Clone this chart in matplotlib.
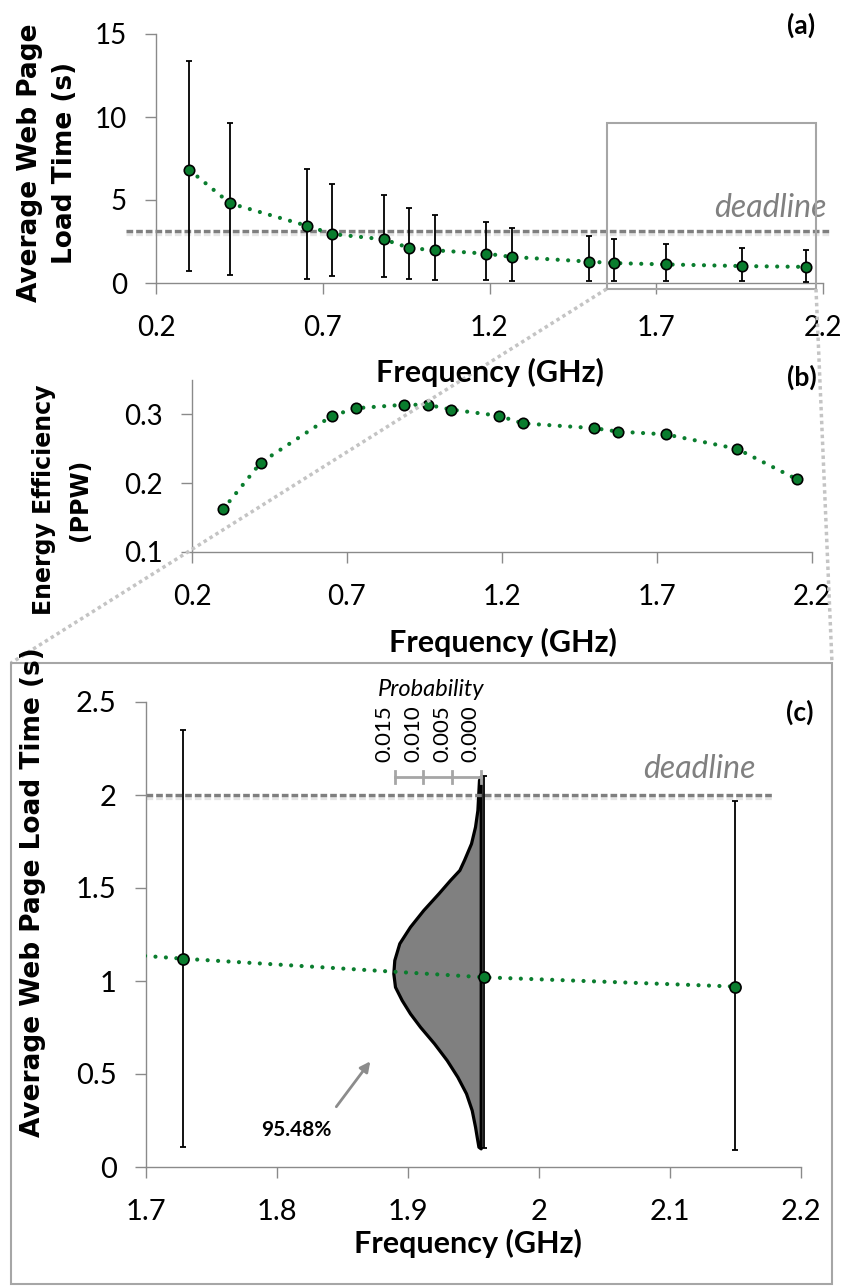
import numpy as np
import matplotlib
matplotlib.use("Agg")
import matplotlib.pyplot as plt
import matplotlib.patheffects as pe
from matplotlib.patches import Rectangle
from matplotlib.lines import Line2D

plt.rcParams['font.family'] = 'Lato'

# data
freq = np.array([0.300, 0.422, 0.652, 0.729, 0.883, 0.960, 1.036, 1.190, 1.267, 1.497, 1.574, 1.728, 1.958, 2.150])
load = np.array([6.81, 4.80, 3.45, 2.95, 2.63, 2.11, 1.97, 1.77, 1.57, 1.29, 1.20, 1.12, 1.02, 0.97])
load_hi = np.array([13.39, 9.64, 6.89, 5.96, 5.30, 4.50, 4.12, 3.67, 3.29, 2.81, 2.63, 2.35, 2.10, 1.97])
load_lo = np.array([0.70, 0.48, 0.24, 0.40, 0.34, 0.22, 0.20, 0.18, 0.14, 0.14, 0.12, 0.11, 0.10, 0.09])
ppw = np.array([0.162, 0.230, 0.298, 0.309, 0.314, 0.314, 0.307, 0.298, 0.287, 0.280, 0.275, 0.271, 0.250, 0.206])

deadline_a = 3.15
deadline_c = 2.0

# load-time distribution at 1.958 GHz (probability vs load time)
pdf_y = np.array([2.10, 2.081, 1.919, 1.830, 1.740, 1.651, 1.597, 1.543, 1.471, 1.382, 1.292, 1.203,
                  1.113, 1.041, 0.969, 0.898, 0.826, 0.754, 0.665, 0.575, 0.485, 0.396, 0.306,
                  0.217, 0.163, 0.109, 0.10])
pdf_p = np.array([0.0, 0.0003, 0.00058, 0.00099, 0.00169, 0.00291, 0.00372, 0.00535, 0.00738, 0.0100,
                  0.01233, 0.01419, 0.01506, 0.01523, 0.01494, 0.01378, 0.01233, 0.01058, 0.00814,
                  0.00593, 0.00407, 0.00256, 0.00157, 0.00099, 0.0007, 0.0004, 0.0])
prob_ticks = [0.015, 0.010, 0.005, 0.000]
prob_pct = "95.48%"

GREEN = '#0a7d2e'
GRAY = '#808080'
SPINE = '#8a8a8a'

W, H = 843, 1286
def fx(x):
    return x / W
def fy(y):
    return 1 - y / H

fig = plt.figure(figsize=(W / 100, H / 100), dpi=100)


def style(ax, tick_size):
    for s in ['top', 'right']:
        ax.spines[s].set_visible(False)
    for s in ['left', 'bottom']:
        ax.spines[s].set_color(SPINE)
        ax.spines[s].set_linewidth(1.0)
    ax.tick_params(axis='x', colors=SPINE, length=8, width=1, pad=15, labelsize=tick_size, labelcolor='black')
    ax.tick_params(axis='y', colors=SPINE, length=8, width=1, pad=13, labelsize=tick_size, labelcolor='black')


def draw_series(ax, err=True, ms=7.5):
    if err:
        ax.errorbar(freq, load, yerr=[load - load_lo, load_hi - load], fmt='none',
                    ecolor='black', elinewidth=1.3, capsize=2.5, capthick=1.3, zorder=3)
        y = load
    else:
        y = ppw
    ax.plot(freq, y, color=GREEN, lw=3.0, ls=(0, (0.01, 2.5)), dash_capstyle='round', zorder=4)
    ax.plot(freq, y, 'o', ms=ms, mfc=GREEN, mec='black', mew=1.2, zorder=5)


def deadline(ax, x0, x1, yv):
    ax.plot([x0, x1], [yv, yv], color='#7f7f7f', lw=2.4, ls=(0, (2, 0.9)), clip_on=False, zorder=2,
            path_effects=[pe.SimpleLineShadow(offset=(0, -2.5), alpha=0.1), pe.Normal()])


# ---- panel (a)
ax_a = fig.add_axes([fx(156), fy(283), (823 - 156) / W, (283 - 34) / H])
style(ax_a, 20)
ax_a.set_xlim(0.2, 2.2)
ax_a.set_ylim(0, 15)
ax_a.set_xticks([0.2, 0.7, 1.2, 1.7, 2.2])
ax_a.set_xticklabels(['0.2', '0.7', '1.2', '1.7', '2.2'])
ax_a.set_yticks([0, 5, 10, 15])
draw_series(ax_a)
deadline(ax_a, 0.11, 2.225, deadline_a)
ax_a.text(2.212, 4.5, 'deadline', style='italic', color=GRAY, fontsize=23, ha='right', va='center')
zx0, zx1, zy0, zy1 = 1.551, 2.179, -0.36, 9.64
ax_a.add_patch(Rectangle((zx0, zy0), zx1 - zx0, zy1 - zy0, fill=False,
                         ec='#a6a6a6', lw=1.5, clip_on=False, zorder=6))

# ---- panel (b)
ax_b = fig.add_axes([fx(192), fy(552), (812 - 192) / W, (552 - 380) / H])
style(ax_b, 20)
ax_b.set_xlim(0.2, 2.2)
ax_b.set_ylim(0.1, 0.35)
ax_b.set_xticks([0.2, 0.7, 1.2, 1.7, 2.2])
ax_b.set_xticklabels(['0.2', '0.7', '1.2', '1.7', '2.2'])
ax_b.set_yticks([0.1, 0.2, 0.3])
ax_b.set_yticklabels(['0.1', '0.2', '0.3'])
draw_series(ax_b, err=False)

# ---- panel (c)
ax_c = fig.add_axes([fx(146), fy(1167), (801 - 146) / W, (1167 - 702) / H])
style(ax_c, 21)
ax_c.set_xlim(1.7, 2.2)
ax_c.set_ylim(0, 2.5)
ax_c.set_xticks([1.7, 1.8, 1.9, 2.0, 2.1, 2.2])
ax_c.set_xticklabels(['1.7', '1.8', '1.9', '2', '2.1', '2.2'])
ax_c.set_yticks([0, 0.5, 1, 1.5, 2, 2.5])
ax_c.set_yticklabels(['0', '0.5', '1', '1.5', '2', '2.5'])

base = 1.9555
k = 4.38  # GHz of axis per unit probability
ax_c.fill_betweenx(pdf_y, base - pdf_p * k, base, facecolor='#808080', edgecolor='black', lw=2.3,
                   joinstyle='round', zorder=2)
draw_series(ax_c, ms=8)
deadline(ax_c, 1.7, 2.179, deadline_c)
ax_c.text(2.165, 2.14, 'deadline', style='italic', color=GRAY, fontsize=23, ha='right', va='center')

# probability scale
py = 2.097
ax_c.plot([base - 0.015 * k, base], [py, py], color='#a6a6a6', lw=2, clip_on=False, zorder=3)
for p in prob_ticks:
    xp = base - p * k
    ax_c.plot([xp, xp], [py - 0.03, py + 0.03], color='#a6a6a6', lw=2, clip_on=False, zorder=3)
    ax_c.text(xp, 2.177, '%.3f' % p, rotation=90, ha='right', va='bottom', fontsize=16)
ax_c.text(1.918, 2.565, 'Probability', style='italic', fontsize=17, ha='center', va='center')

ax_c.annotate('', xy=(1.8725, 0.58), xytext=(1.844, 0.312),
              arrowprops=dict(arrowstyle='-|>', color='#8c8c8c', lw=2, mutation_scale=15))
ax_c.text(1.815, 0.199, prob_pct, fontweight='bold', fontsize=15, ha='center', va='center')

# ---- labels
ylab = dict(family='DejaVu Sans', fontweight='bold', rotation=90, ha='center', va='center')
fig.text(fx(48), fy(163), 'Average Web Page\nLoad Time (s)', fontsize=19, linespacing=1.45, **ylab)
fig.text(fx(62), fy(500), 'Energy Efficiency\n(PPW)', fontsize=17, linespacing=1.6, **ylab)
fig.text(fx(33), fy(892), 'Average Web Page Load Time (s)', fontsize=19, **ylab)

xlab = dict(fontweight='bold', fontsize=22, ha='center', va='center')
fig.text(fx(490), fy(372), 'Frequency (GHz)', **xlab)
fig.text(fx(503), fy(642), 'Frequency (GHz)', **xlab)
fig.text(fx(468), fy(1243), 'Frequency (GHz)', **xlab)

tag = dict(fontweight='bold', fontsize=19, ha='center', va='center')
fig.text(fx(801), fy(25), '(a)', **tag)
fig.text(fx(802), fy(377), '(b)', **tag)
fig.text(fx(800), fy(712), '(c)', **tag)

# ---- zoom frame and connectors
fig.add_artist(Rectangle((fx(11), fy(1284)), (832 - 11) / W, (1284 - 663) / H, transform=fig.transFigure,
                         fill=False, ec='#a6a6a6', lw=1.5))
to_fig = ax_a.transData + fig.transFigure.inverted()
for xa, xb in [(zx0, 11), (zx1, 832)]:
    x0, y0 = to_fig.transform((xa, zy0))
    fig.add_artist(Line2D([x0, fx(xb)], [y0, fy(663)], transform=fig.transFigure,
                          color='#c4c4c4', lw=2.5, ls=(0, (1, 1)), zorder=0.5))

fig.savefig('out.png', dpi=100)
